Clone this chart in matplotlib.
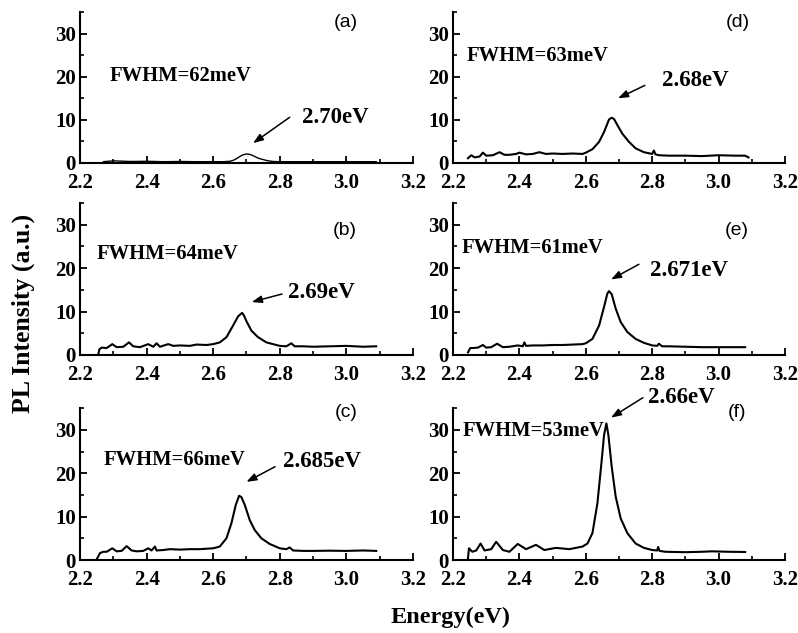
import matplotlib
matplotlib.use("Agg")
import matplotlib.pyplot as plt
from matplotlib.ticker import MultipleLocator

# ---------------- data ----------------
xa = [2.27, 2.30, 2.35, 2.40, 2.45, 2.50, 2.55, 2.60, 2.63, 2.65, 2.66, 2.67, 2.68, 2.69, 2.70,
      2.71, 2.72, 2.73, 2.74, 2.75, 2.76, 2.77, 2.78, 2.80, 2.85, 2.90, 2.95, 3.00, 3.05, 3.09]
ya = [0.3, 0.5, 0.35, 0.4, 0.3, 0.35, 0.3, 0.3, 0.3, 0.4, 0.6, 1.0, 1.5, 1.9, 2.1,
      2.0, 1.7, 1.3, 1.0, 0.8, 0.6, 0.45, 0.35, 0.3, 0.3, 0.3, 0.3, 0.3, 0.3, 0.3]

xb = [2.255, 2.258, 2.265, 2.28, 2.297, 2.31, 2.33, 2.347, 2.36, 2.38, 2.405, 2.42, 2.43, 2.44,
      2.465, 2.48, 2.50, 2.53, 2.55, 2.58, 2.60, 2.62, 2.64, 2.66, 2.675, 2.687, 2.692, 2.70,
      2.715, 2.735, 2.76, 2.78, 2.80, 2.82, 2.835, 2.845, 2.87, 2.90, 2.95, 3.00, 3.05, 3.09]
yb = [0.2, 1.3, 1.7, 1.6, 2.5, 1.8, 1.9, 2.9, 2.0, 1.8, 2.5, 1.9, 2.7, 1.9,
      2.5, 2.1, 2.2, 2.1, 2.4, 2.3, 2.5, 2.9, 4.1, 6.8, 8.9, 9.7, 9.2, 7.8,
      5.6, 4.1, 2.9, 2.5, 2.1, 2.0, 2.7, 2.0, 2.0, 1.9, 2.0, 2.1, 1.9, 2.0]

xc = [2.25, 2.26, 2.27, 2.28, 2.297, 2.31, 2.325, 2.34, 2.355, 2.37, 2.39, 2.405, 2.415, 2.425,
      2.43, 2.45, 2.47, 2.50, 2.53, 2.56, 2.60, 2.62, 2.64, 2.655, 2.668, 2.678, 2.685, 2.695,
      2.71, 2.725, 2.745, 2.77, 2.80, 2.82, 2.83, 2.84, 2.87, 2.90, 2.95, 3.00, 3.05, 3.09]
yc = [0.15, 1.6, 1.9, 1.9, 2.7, 2.0, 2.1, 3.2, 2.2, 2.0, 2.1, 2.7, 2.2, 3.1,
      2.2, 2.3, 2.5, 2.4, 2.5, 2.5, 2.7, 3.1, 5.0, 8.5, 12.7, 14.8, 14.5, 12.7,
      9.2, 6.9, 5.0, 3.7, 2.7, 2.5, 2.9, 2.2, 2.1, 2.1, 2.15, 2.1, 2.2, 2.1]

xd = [2.245, 2.255, 2.265, 2.28, 2.29, 2.30, 2.32, 2.34, 2.355, 2.37, 2.39, 2.40, 2.42, 2.44,
      2.46, 2.48, 2.50, 2.53, 2.56, 2.59, 2.60, 2.62, 2.64, 2.655, 2.67, 2.678, 2.685, 2.695,
      2.71, 2.73, 2.75, 2.775, 2.80, 2.805, 2.81, 2.82, 2.85, 2.90, 2.95, 3.00, 3.05, 3.08, 3.09]
yd = [1.1, 1.8, 1.3, 1.5, 2.4, 1.7, 1.8, 2.5, 1.9, 1.9, 2.1, 2.4, 2.0, 2.1,
      2.5, 2.1, 2.2, 2.1, 2.2, 2.1, 2.4, 3.2, 4.9, 7.2, 10.1, 10.5, 10.2, 8.8,
      6.8, 4.9, 3.4, 2.5, 2.1, 2.9, 2.0, 1.8, 1.7, 1.7, 1.6, 1.8, 1.7, 1.7, 1.3]

xe = [2.245, 2.252, 2.26, 2.275, 2.29, 2.30, 2.315, 2.333, 2.35, 2.37, 2.395, 2.41, 2.415, 2.42,
      2.44, 2.47, 2.50, 2.53, 2.56, 2.59, 2.60, 2.62, 2.64, 2.655, 2.665, 2.67, 2.678, 2.69,
      2.705, 2.725, 2.75, 2.775, 2.80, 2.815, 2.82, 2.83, 2.85, 2.90, 2.95, 3.00, 3.05, 3.08]
ye = [0.6, 1.6, 1.6, 1.7, 2.3, 1.7, 1.8, 2.6, 1.8, 1.9, 2.2, 2.0, 2.9, 2.1,
      2.2, 2.2, 2.3, 2.3, 2.4, 2.5, 2.7, 3.7, 6.8, 11.1, 14.2, 14.7, 14.0, 10.7,
      7.6, 5.3, 3.7, 2.8, 2.2, 2.1, 2.6, 2.0, 2.0, 1.9, 1.8, 1.8, 1.8, 1.8]

xf = [2.245, 2.248, 2.258, 2.27, 2.283, 2.295, 2.315, 2.33, 2.35, 2.37, 2.395, 2.42, 2.45, 2.475,
      2.51, 2.55, 2.59, 2.605, 2.62, 2.635, 2.647, 2.655, 2.662, 2.668, 2.678, 2.69, 2.705, 2.725,
      2.75, 2.775, 2.80, 2.815, 2.818, 2.822, 2.84, 2.90, 2.95, 2.98, 3.03, 3.08]
yf = [0.4, 2.7, 1.9, 2.2, 3.8, 2.2, 2.5, 4.2, 2.3, 1.9, 3.7, 2.5, 3.5, 2.3,
      2.8, 2.5, 3.1, 3.8, 6.2, 13.1, 22.3, 28.8, 31.5, 28.8, 21.5, 14.6, 9.6, 6.2,
      3.8, 2.8, 2.3, 2.2, 3.0, 2.1, 1.9, 1.8, 1.9, 2.0, 1.9, 1.85]

panel_tags = ["(a)", "(b)", "(c)", "(d)", "(e)", "(f)"]
fwhm_labels = ["FWHM=62meV", "FWHM=64meV", "FWHM=66meV",
               "FWHM=63meV", "FWHM=61meV", "FWHM=53meV"]
peak_labels = ["2.70eV", "2.69eV", "2.685eV", "2.68eV", "2.671eV", "2.66eV"]
x_ticks = [2.2, 2.4, 2.6, 2.8, 3.0, 3.2]
x_ticklabels = ["2.2", "2.4", "2.6", "2.8", "3.0", "3.2"]
y_ticks = [0, 10, 20, 30]
y_ticklabels = ["0", "10", "20", "30"]
series_x = [xa, xb, xc, xd, xe, xf]
series_y = [ya, yb, yc, yd, ye, yf]

# ---------------- layout / annotation positions ----------------
axes_rects = [
    [0.1003, 0.7425, 0.417, 0.2385],
    [0.1003, 0.4392, 0.417, 0.2400],
    [0.1003, 0.1153, 0.417, 0.2400],
    [0.5677, 0.7425, 0.416, 0.2385],
    [0.5677, 0.4392, 0.416, 0.2400],
    [0.5677, 0.1153, 0.416, 0.2400],
]
tag_pos = [(3.0, 32.6), (2.996, 28.6), (3.0, 34.0), (3.058, 32.6), (3.056, 28.6), (3.056, 34.0)]
fwhm_pos = [(2.29, 20.1), (2.25, 23.2), (2.27, 23.1), (2.242, 24.9), (2.227, 24.6), (2.23, 29.8)]
peak_pos = [(2.866, 10.5), (2.825, 14.3), (2.81, 22.6), (2.83, 19.2), (2.793, 19.5), (2.787, 37.4)]
arrow_start = [(2.83, 10.6), (2.807, 14.05), (2.786, 21.5), (2.778, 18.0), (2.76, 20.9), (2.772, 37.4)]
arrow_tip = [(2.72, 4.6), (2.716, 12.2), (2.70, 18.0), (2.697, 15.0), (2.676, 17.4), (2.676, 32.8)]
line_w = [1.0, 1.5, 1.5, 1.5, 1.5, 1.5]

serif = "Liberation Serif"

fig = plt.figure(figsize=(7.98, 6.33), dpi=100)

for i in range(6):
    ax = fig.add_axes(axes_rects[i])
    ax.plot(series_x[i], series_y[i], color="black", lw=line_w[i])
    ax.set_xlim(2.2, 3.2)
    ax.set_ylim(0, 35)
    ax.xaxis.set_minor_locator(MultipleLocator(0.1))
    ax.yaxis.set_minor_locator(MultipleLocator(5))
    ax.set_xticks(x_ticks)
    ax.set_xticklabels(x_ticklabels)
    ax.set_yticks(y_ticks)
    ax.set_yticklabels(y_ticklabels)
    for s in ["top", "right"]:
        ax.spines[s].set_visible(False)
    for s in ["left", "bottom"]:
        ax.spines[s].set_linewidth(1.5)
    ax.tick_params(which="major", direction="in", length=5, width=1.3)
    ax.tick_params(which="minor", direction="in", length=2.8, width=1.2)
    ax.tick_params(axis="x", which="major", pad=7)
    ax.tick_params(axis="y", which="major", pad=3)
    for lab in ax.get_xticklabels() + ax.get_yticklabels():
        lab.set_fontfamily(serif)
        lab.set_fontweight("bold")
        lab.set_fontsize(15)
    ax.text(*tag_pos[i], panel_tags[i], family="Liberation Sans", fontsize=14,
            ha="center", va="center")
    ax.text(*fwhm_pos[i], fwhm_labels[i], family=serif, fontweight="bold", fontsize=14.8,
            ha="left", va="center")
    ax.text(*peak_pos[i], peak_labels[i], family=serif, fontweight="bold", fontsize=16.5,
            ha="left", va="center", clip_on=False)
    ax.annotate("", xy=arrow_tip[i], xytext=arrow_start[i], annotation_clip=False,
                arrowprops=dict(arrowstyle="-|>,head_length=0.6,head_width=0.22",
                                color="black", lw=1.1, shrinkA=0, shrinkB=0))

fig.text(0.029, 0.505, "PL Intensity (a.u.)", family=serif, fontweight="bold",
         fontsize=18.5, rotation=90, ha="center", va="center")
fig.text(0.564, 0.0158, "Energy(eV)", family=serif, fontweight="bold",
         fontsize=17.5, ha="center", va="baseline")

fig.savefig("out.png", dpi=100)
